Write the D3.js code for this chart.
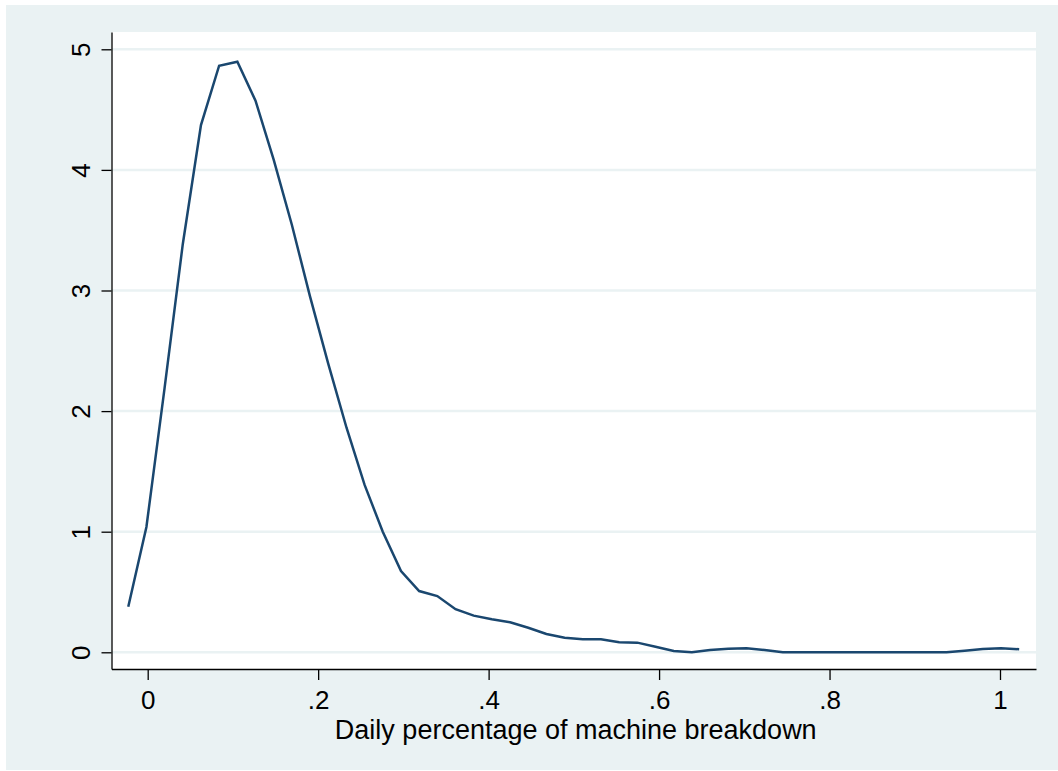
<!DOCTYPE html>
<html>
<head>
<meta charset="utf-8">
<script src="https://cdn.jsdelivr.net/npm/d3@7"></script>
<style>
  body { margin: 0; background: #ffffff; }
  svg { display: block; }
  text { font-family: "Liberation Sans", Arial, sans-serif; }
</style>
</head>
<body>
<svg id="chart" width="1058" height="771"></svg>
<script>
// ---- data ----
const xValues = [-0.0228, -0.0015, 0.0198, 0.0412, 0.0625, 0.0838, 0.1052, 0.1265, 0.1478, 0.1692,
  0.1905, 0.2118, 0.2332, 0.2545, 0.2758, 0.2972, 0.3185, 0.3398, 0.3612, 0.3825,
  0.4038, 0.4252, 0.4465, 0.4678, 0.4892, 0.5105, 0.5318, 0.5532, 0.5745, 0.5958,
  0.6172, 0.6385, 0.6598, 0.6812, 0.7025, 0.7238, 0.7452, 0.7665, 0.7878, 0.8092,
  0.8305, 0.8518, 0.8732, 0.8945, 0.9158, 0.9372, 0.9585, 0.9798, 1.0012, 1.0225];
const densityValues = [0.378, 1.039, 2.19, 3.386, 4.372, 4.864, 4.897, 4.574, 4.085, 3.543,
  2.949, 2.393, 1.864, 1.388, 1.0, 0.674, 0.508, 0.466, 0.357, 0.304,
  0.274, 0.249, 0.204, 0.152, 0.121, 0.108, 0.108, 0.083, 0.080, 0.046,
  0.011, 0.0, 0.019, 0.030, 0.033, 0.019, 0.0, 0.0, 0.0, 0.0,
  0.0, 0.0, 0.0, 0.0, 0.0, 0.0, 0.013, 0.027, 0.033, 0.025];
const xTicks = [0, 0.2, 0.4, 0.6, 0.8, 1];
const xTickLabels = ["0", ".2", ".4", ".6", ".8", "1"];
const yTicks = [0, 1, 2, 3, 4, 5];
const yTickLabels = ["0", "1", "2", "3", "4", "5"];
const xTitle = "Daily percentage of machine breakdown";

// ---- layout ----
const svg = d3.select("#chart");
const W = 1058, H = 771;
const plot = { left: 111.5, right: 1036, top: 32, bottom: 669 };
const bg = "#eaf2f3";
const lineColor = "#1a476f";
const fontSize = 26;

svg.append("rect").attr("x", 0).attr("y", 0).attr("width", W).attr("height", H).attr("fill", "#ffffff");
svg.append("rect").attr("x", 6).attr("y", 5).attr("width", W - 6).attr("height", H - 5 - 1).attr("fill", bg);
svg.append("rect").attr("x", plot.left).attr("y", plot.top)
  .attr("width", plot.right - plot.left).attr("height", plot.bottom - plot.top).attr("fill", "#ffffff");

const x = d3.scaleLinear().domain([-0.04247, 1.04224]).range([plot.left, plot.right]);
const y = d3.scaleLinear().domain([-0.1385, 5.1434]).range([plot.bottom, plot.top]);

// gridlines
svg.append("g").selectAll("line").data(yTicks).join("line")
  .attr("x1", plot.left).attr("x2", plot.right)
  .attr("y1", d => y(d)).attr("y2", d => y(d))
  .attr("stroke", bg).attr("stroke-width", 2.5);

// line
const data = xValues.map((v, i) => [v, densityValues[i]]);
svg.append("path").datum(data)
  .attr("fill", "none").attr("stroke", lineColor).attr("stroke-width", 2.5)
  .attr("stroke-linejoin", "miter")
  .attr("d", d3.line().x(d => x(d[0])).y(d => y(d[1])));

// y axis
const yAxis = svg.append("g").attr("transform", `translate(${plot.left},0)`)
  .call(d3.axisLeft(y).tickValues(yTicks).tickFormat((d, i) => yTickLabels[i]).tickSize(10).tickSizeOuter(0));
yAxis.attr("font-size", fontSize).attr("font-family", "'Liberation Sans', Arial, sans-serif");
yAxis.select(".domain").attr("stroke", "#000").attr("stroke-width", 1.3);
yAxis.selectAll(".tick line").attr("stroke", "#000").attr("stroke-width", 1.3);
yAxis.selectAll(".tick text")
  .attr("x", null).attr("dy", null).attr("y", null)
  .attr("text-anchor", "middle")
  .attr("transform", "translate(-22,0) rotate(-90)")
  .attr("fill", "#000");

// x axis
const xAxis = svg.append("g").attr("transform", `translate(0,${plot.bottom})`)
  .call(d3.axisBottom(x).tickValues(xTicks).tickFormat((d, i) => xTickLabels[i]).tickSize(11).tickSizeOuter(0));
xAxis.attr("font-size", fontSize).attr("font-family", "'Liberation Sans', Arial, sans-serif");
xAxis.select(".domain").attr("stroke", "#000").attr("stroke-width", 1.3);
xAxis.selectAll(".tick line").attr("stroke", "#000").attr("stroke-width", 1.3);
xAxis.selectAll(".tick text")
  .attr("y", 40).attr("dy", null)
  .attr("fill", "#000");

// x title
svg.append("text").attr("x", (plot.left + plot.right) / 2 + 2).attr("y", 739)
  .attr("text-anchor", "middle").attr("font-size", 27).attr("fill", "#000")
  .text(xTitle);
</script>
</body>
</html>
